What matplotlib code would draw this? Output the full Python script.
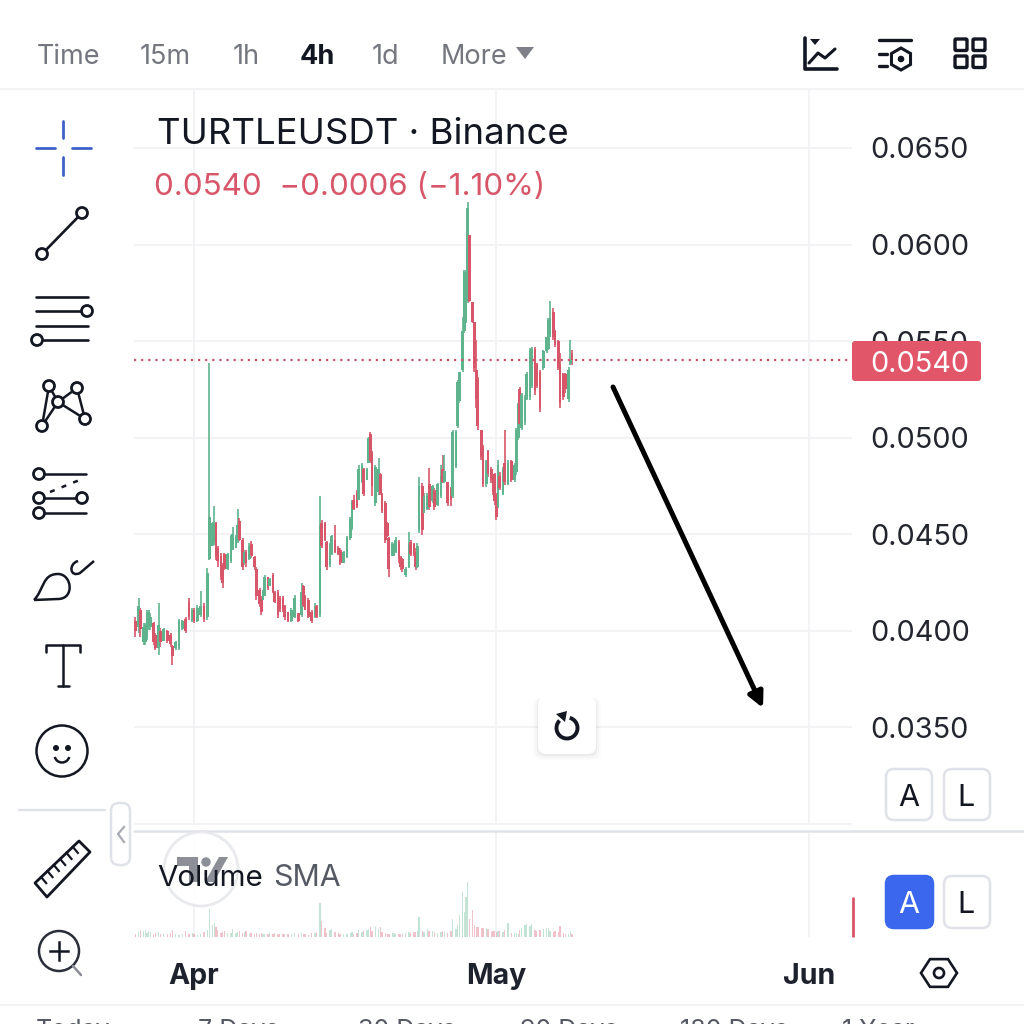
from datetime import datetime

import numpy as np
import matplotlib
matplotlib.use('Agg')
import matplotlib.pyplot as plt
import matplotlib.dates as mdates
from matplotlib.patches import Circle, FancyBboxPatch, Polygon, Arc, PathPatch
from matplotlib.path import Path

plt.rcParams['font.family'] = ['Inter', 'DejaVu Sans']

# 4h bar numbers, counted from 26 Mar 04:00
bars = [0, 2, 3, 5, 6, 7, 8, 9, 11, 12,
        14, 15, 17, 19, 21, 22, 24, 26, 28, 30,
        32, 34, 35, 37, 39, 41, 43, 44, 46, 47,
        48, 49, 51, 52, 53, 55, 57, 58, 60, 61,
        62, 64, 65, 66, 68, 69, 71, 72, 74, 75,
        76, 77, 79, 80, 82, 83, 85, 86, 88, 89,
        91, 93, 95, 97, 99, 100, 101, 103, 105, 107,
        108, 110, 111, 113, 114, 116, 117, 119, 121, 122,
        124, 126, 128, 129, 130, 132, 133, 135, 136, 138,
        139, 140, 141, 143, 145, 146, 147, 149, 150, 151,
        153, 154, 155, 157, 158, 159, 161, 163, 164, 166,
        167, 168, 169, 171, 172, 174, 175, 177, 178, 180,
        182, 183, 184, 186, 188, 189, 191, 192, 193, 195,
        196, 197, 198, 199, 201, 202, 203, 204, 206, 207,
        209, 210, 212, 213, 214, 215, 216, 217, 219, 220,
        222, 224, 226, 227, 228, 229, 230, 232, 233, 235,
        236, 238, 239, 241, 243, 245, 246, 247, 249, 250,
        252, 253, 255, 256, 258, 259, 260]

# prices in 1e-4 USDT
opens = [405, 402, 411, 394, 394, 397, 402, 402, 404, 398,
         391, 400, 395, 400, 398, 392, 391, 391, 401, 406,
         415, 405, 411, 405, 408, 413, 407, 437, 444, 446,
         456, 443, 439, 434, 440, 432, 436, 442, 443, 446,
         457, 447, 435, 441, 437, 445, 438, 432, 421, 417,
         416, 418, 428, 423, 429, 420, 420, 417, 417, 413,
         410, 405, 407, 409, 408, 423, 418, 416, 410, 407,
         413, 408, 456, 456, 446, 434, 440, 447, 443, 442,
         435, 438, 448, 453, 468, 472, 468, 477, 484, 478,
         487, 502, 492, 466, 472, 481, 471, 466, 456, 448,
         439, 439, 441, 446, 438, 437, 429, 433, 446, 445,
         441, 433, 452, 475, 461, 463, 476, 467, 473, 465,
         470, 484, 477, 477, 474, 470, 485, 506, 519, 535,
         555, 560, 571, 605, 570, 560, 535, 530, 504, 495,
         476, 493, 484, 479, 481, 471, 464, 480, 471, 487,
         476, 488, 478, 482, 500, 525, 505, 508, 520, 521,
         527, 546, 538, 534, 536, 545, 546, 553, 565, 555,
         550, 538, 533, 533, 520, 538, 544]
closes = [400, 413, 401, 402, 403, 410, 410, 407, 394, 391,
          403, 394, 401, 395, 393, 387, 394, 405, 405, 400,
          407, 411, 405, 412, 413, 406, 430, 459, 456, 456,
          438, 436, 428, 425, 432, 440, 449, 450, 449, 455,
          447, 433, 441, 435, 444, 439, 433, 418, 414, 410,
          421, 428, 422, 427, 420, 415, 408, 411, 411, 407,
          405, 411, 417, 405, 420, 413, 411, 407, 405, 413,
          407, 455, 444, 447, 433, 445, 449, 441, 440, 435,
          441, 448, 458, 467, 463, 464, 484, 486, 471, 484,
          500, 488, 475, 485, 484, 471, 462, 447, 449, 432,
          445, 444, 447, 437, 433, 432, 432, 445, 440, 440,
          433, 444, 475, 452, 470, 470, 464, 475, 464, 476,
          480, 477, 483, 466, 468, 503, 503, 529, 534, 555,
          586, 586, 619, 571, 560, 536, 520, 506, 490, 476,
          488, 481, 478, 472, 467, 459, 486, 474, 484, 477,
          487, 478, 486, 504, 517, 507, 522, 521, 533, 545,
          546, 524, 527, 515, 545, 552, 561, 562, 552, 548,
          536, 518, 521, 525, 535, 540, 540]
highs = [407.4, 416.9, 411.7, 404, 404, 410.9, 410.9, 409.1, 404.8, 398.8,
         414.3, 401.4, 401.4, 400.5, 398.8, 392.7, 394.5, 406, 405.7, 407.4,
         416.9, 411.7, 411.7, 413.4, 420.4, 414.3, 432.4, 538.8, 456.6, 464.4,
         456.6, 443.7, 440.2, 435, 440.2, 440.2, 449.7, 454, 449.7, 463,
         458.3, 448, 441.9, 441.9, 445.4, 446.3, 438.5, 433.3, 422.1, 417.8,
         421.2, 429, 428.1, 427.3, 429.9, 420.4, 421.2, 417.8, 417.8, 413.4,
         410, 411.7, 418.6, 409.1, 425, 423.8, 418.6, 416.9, 410.9, 414.3,
         413.4, 469.9, 457.5, 456.6, 446.3, 445.4, 449.7, 454.9, 443.7, 442.8,
         441.1, 448.9, 459.2, 467.9, 470.4, 473, 486, 486.8, 484.2, 484.2,
         500.6, 503.2, 492.9, 486, 489.4, 481.6, 471.3, 467, 456.6, 448.8,
         446.2, 445.4, 448.8, 447.1, 438.5, 437.6, 433.3, 451.4, 447.1, 445.4,
         442.8, 445.4, 479.9, 476.5, 471.3, 471.3, 484.2, 475.6, 473.9, 476.5,
         486, 491.1, 491.1, 477.3, 474.7, 504.1, 504.1, 530, 534.2, 562.7,
         587, 587, 622.2, 605.1, 570.4, 560, 550.7, 531.6, 504.1, 496.3,
         488.6, 493.8, 485, 479.8, 481.8, 471.5, 488.6, 482.4, 485, 504.1,
         488.6, 488.6, 487, 505.2, 518.1, 526.4, 523.3, 522.2, 534.2, 546.6,
         547.1, 547.1, 538.8, 535.2, 545.6, 552.3, 562.1, 570.9, 567.3, 555.9,
         550.7, 544, 533.6, 533.6, 536.8, 550.7, 545.6]
lows = [397, 398.8, 397, 392.7, 392.7, 395.3, 400.5, 400.5, 392.7, 390.1,
        387.5, 391.9, 394.5, 393.6, 391.9, 382.4, 390.1, 390.1, 400.5, 398.8,
        405.7, 404.8, 404, 404.8, 407.4, 404.8, 405.7, 436.8, 443.7, 444.5,
        436.8, 433.3, 426.4, 422.1, 431.6, 431.6, 435, 441.9, 442.8, 445.4,
        446.3, 431.6, 434.2, 433.3, 436.8, 437.6, 431.6, 416, 412.6, 408.3,
        416, 417.8, 421.2, 423, 419.5, 414.3, 406.6, 410, 410, 405.7,
        404.8, 404.8, 406.6, 404.8, 407.4, 412.6, 410.9, 406.6, 404, 406.6,
        406.6, 407.4, 442.8, 446.3, 431.6, 433.3, 439.4, 440.2, 439.4, 434.2,
        435, 437.6, 447.1, 452.3, 462.7, 463.5, 467.9, 476.5, 469.6, 478.2,
        486.8, 486.8, 469.6, 464.4, 470.4, 470.4, 460.9, 445.4, 448.8, 428.1,
        438.5, 438.5, 440.2, 435, 431.6, 430.7, 428.1, 432.4, 438.5, 438.5,
        431.6, 432.4, 450.6, 449.7, 460.9, 462.6, 462.6, 466.1, 462.6, 464.4,
        468.7, 476.5, 476.5, 464.4, 464.4, 468.7, 484.2, 505.2, 518.1, 534.2,
        554.4, 559.5, 569.9, 570.4, 559.5, 534.2, 515.5, 504.1, 488.6, 474.6,
        474.6, 479.8, 476.7, 470.4, 465.3, 457.5, 463.7, 473, 470.4, 475.6,
        475.6, 477.2, 477.2, 480.8, 498.9, 505.7, 504.1, 506.7, 519.7, 519.7,
        525.9, 522.2, 525.9, 513.4, 535.2, 544, 545.6, 552.3, 550.7, 547.1,
        535.2, 515.5, 519.7, 523.3, 518.6, 537.8, 537.8]
volumes = [3, 5, 7, 6, 7, 4, 6, 5, 3, 4,
           5, 3, 3, 3, 4, 7, 3, 2, 3, 6,
           3, 4, 3, 2, 3, 5, 7, 28, 12, 14,
           10, 7, 4, 5, 6, 4, 4, 8, 4, 5,
           6, 4, 5, 6, 3, 4, 3, 4, 3, 4,
           3, 3, 3, 4, 3, 4, 3, 3, 3, 3,
           3, 3, 4, 3, 4, 3, 3, 2, 4, 4,
           5, 34, 16, 9, 4, 7, 8, 5, 4, 3,
           3, 3, 4, 5, 3, 4, 7, 5, 6, 7,
           8, 10, 6, 10, 8, 10, 5, 4, 3, 3,
           4, 4, 3, 3, 3, 3, 4, 5, 4, 5,
           5, 6, 20, 6, 5, 8, 6, 6, 5, 4,
           5, 6, 5, 4, 6, 18, 8, 12, 22, 45,
           25, 40, 55, 18, 27, 12, 10, 10, 9, 9,
           9, 8, 5, 6, 6, 5, 6, 6, 5, 7,
           14, 4, 4, 4, 3, 7, 9, 12, 13, 11,
           13, 7, 6, 7, 8, 9, 9, 6, 5, 6,
           5, 11, 4, 3, 3, 6, 3]

price_ticks = [300, 350, 400, 450, 500, 550, 600, 650]
price_labels = ['', '0.0350', '0.0400', '0.0450', '0.0500', '0.0550', '0.0600', '0.0650']
last_price = 540
month_ticks = [datetime(2025, 4, 1), datetime(2025, 5, 1), datetime(2025, 6, 1)]
month_labels = ['Apr', 'May', 'Jun']
timeframes = ['Time', '15m', '1h', '4h', '1d', 'More']
ranges = ['Today', '7 Days', '30 Days', '90 Days', '180 Days', '1 Year']

UP = '#5fb48d'
DOWN = '#d8566a'
GRID = '#f2f2f5'
LINE = '#e0e2e9'
INK = '#131722'
GREY = '#74777f'


def px_box(left, top, right, bottom):
    return [left / 1024, 1 - bottom / 1024, (right - left) / 1024, (bottom - top) / 1024]


fig = plt.figure(figsize=(10.24, 10.24), dpi=100, facecolor='white')
ax = fig.add_axes(px_box(134, 90, 852, 825))
ax_vol = fig.add_axes(px_box(134, 832, 852, 937))
ui = fig.add_axes([0, 0, 1, 1], zorder=5)
ui.set_xlim(0, 1024)
ui.set_ylim(1024, 0)
ui.axis('off')
ui.patch.set_alpha(0)

# candles
start = mdates.date2num(datetime(2025, 3, 26, 4))
days = start + np.array(bars) / 6
opens_arr = np.array(opens, dtype=float)
closes_arr = np.array(closes, dtype=float)
colors = [UP if c >= o else DOWN for o, c in zip(opens_arr, closes_arr)]
ax.vlines(days, lows, highs, colors=colors, linewidth=1.2, zorder=3)
ax.bar(days, closes_arr - opens_arr, bottom=opens_arr, width=0.27, color=colors, zorder=3)
ax.axhline(last_price, color='#c9566a', linewidth=1.6, linestyle=(0, (1, 2.2)), zorder=4)

xlim = (mdates.date2num(datetime(2025, 4, 1)) - 5.96, mdates.date2num(datetime(2025, 4, 1)) + 65.3)
ax.set_xlim(xlim)
ax.set_ylim(299.5, 680)
ax.set_yticks(price_ticks, price_labels)
ax.yaxis.tick_right()
ax.tick_params(axis='y', length=0, pad=13.5, labelsize=20.8, labelcolor='#23262f')
ax.set_xticks([mdates.date2num(m) for m in month_ticks], [])
ax.tick_params(axis='x', length=0)
ax.grid(True, color=GRID, linewidth=1.3)
ax.set_axisbelow(True)
for s in ax.spines.values():
    s.set_visible(False)

# volume pane
ax_vol.bar(days, volumes, width=0.13, color=colors, alpha=0.36, zorder=3)
ax_vol.vlines(mdates.date2num(datetime(2025, 6, 5, 10)), 0, 40, color=DOWN, linewidth=2, zorder=3, clip_on=False)
ax_vol.set_xlim(xlim)
ax_vol.set_ylim(0, 105)
ax_vol.set_yticks([])
ax_vol.set_xticks([mdates.date2num(m) for m in month_ticks], month_labels)
ax_vol.tick_params(axis='x', length=0, pad=19, labelsize=20.5, labelcolor='#1e222d')
for lab in ax_vol.get_xticklabels():
    lab.set_fontweight('bold')
ax_vol.grid(True, axis='x', color=GRID, linewidth=1.3)
ax_vol.set_axisbelow(True)
for s in ax_vol.spines.values():
    s.set_visible(False)
ax_vol.patch.set_alpha(0)


# little helpers for the app chrome, all in screen pixels
def seg(x, y, color=INK, lw=2.2, **kw):
    ui.plot(x, y, color=color, linewidth=lw, solid_capstyle=kw.pop('cap', 'round'), **kw)


def ring(x, y, r=5.5, color=INK, lw=2):
    ui.add_patch(Circle((x, y), r, facecolor='white', edgecolor=color, linewidth=lw, zorder=6))


def rbox(left, top, right, bottom, fc='white', ec=LINE, lw=1.8, pad=8, zorder=6):
    ui.add_patch(FancyBboxPatch((left + pad, top + pad), right - left - 2 * pad, bottom - top - 2 * pad,
                                boxstyle=f'round,pad={pad},rounding_size={pad}',
                                facecolor=fc, edgecolor=ec, linewidth=lw, zorder=zorder))


# top bar
for label, x, col, weight in zip(timeframes, [37, 140, 233, 300, 372, 441],
                                 [GREY, GREY, GREY, INK, GREY, GREY],
                                 ['normal', 'normal', 'normal', 'bold', 'normal', 'normal']):
    ui.text(x, 57, label, fontsize=19.5, color=col, fontweight=weight, va='center', ha='left')
ui.add_patch(Polygon([(516, 47), (534, 47), (525, 59)], closed=True, facecolor='#7d8089', edgecolor='none'))
seg([0, 1024], [89, 89], color=GRID, lw=1.3)
seg([0, 1024], [1005, 1005], color=GRID, lw=1.3)

# top right icons
seg([805, 805, 837], [38, 69, 69], lw=2.6)
ui.add_patch(Polygon([(810, 39), (820, 39), (815, 45)], closed=True, facecolor=INK))
seg([809, 818, 825, 835], [63, 53, 58, 49], lw=2.2)
seg([879, 911], [40, 40], lw=2.4)
seg([879, 887], [54, 54], lw=2.4)
seg([879, 887], [66, 66], lw=2.4)
hex_t = np.radians(np.arange(30, 390, 60))
ui.add_patch(Polygon(np.c_[901 + 11 * np.cos(hex_t), 59 + 11 * np.sin(hex_t)], closed=True,
                     facecolor='white', edgecolor=INK, linewidth=2.2))
ui.add_patch(Circle((901, 59), 2.6, color=INK))
for gx in (955, 973):
    for gy in (39, 56):
        rbox(gx, gy, gx + 12, gy + 11.5, fc='white', ec=INK, lw=2.4, pad=1.2)

# left toolbar
BLUE = '#3f60c8'
seg([63, 63], [121, 138], color=BLUE, lw=2)
seg([63, 63], [157, 175], color=BLUE, lw=2)
seg([36, 55], [148, 148], color=BLUE, lw=2)
seg([72, 91], [148, 148], color=BLUE, lw=2)
seg([42, 82], [254, 213], lw=1.9)
ring(42, 254)
ring(82, 213)
seg([36, 88], [297, 297], lw=1.9)
seg([36, 82], [311, 311], lw=1.9)
seg([36, 88], [326, 326], lw=1.9)
seg([42, 88], [340, 340], lw=1.9)
ring(87, 311)
ring(37, 340)
seg([42, 49, 58, 42], [426, 386, 402, 426], lw=1.8)
seg([58, 77, 85, 58], [402, 388, 419, 402], lw=1.8)
for cx, cy in [(49, 386), (77, 388), (58, 402), (85, 419), (42, 426)]:
    ring(cx, cy)
seg([39, 86], [474, 474], lw=1.8)
seg([39, 82], [498, 498], lw=1.8)
seg([39, 86], [513, 513], lw=1.8)
seg([50, 82], [492, 479], lw=1.8, linestyle=(0, (2, 3)))
for cx, cy in [(39, 474), (39, 498), (82, 498), (39, 513)]:
    ring(cx, cy)
brush = Path([(34, 600), (44, 590), (42, 574), (58, 574), (72, 574), (75, 599), (58, 599), (34, 600)],
             [Path.MOVETO, Path.CURVE4, Path.CURVE4, Path.CURVE4, Path.CURVE4, Path.CURVE4, Path.CURVE4, Path.LINETO])
ui.add_patch(PathPatch(brush, facecolor='none', edgecolor=INK, linewidth=1.8))
handle = Path([(78, 561), (68, 564), (70, 578), (80, 573), (94, 561)],
              [Path.MOVETO, Path.CURVE4, Path.CURVE4, Path.CURVE4, Path.LINETO])
ui.add_patch(PathPatch(handle, facecolor='none', edgecolor=INK, linewidth=1.8))
seg([46, 46, 80, 80], [652, 645, 645, 652], lw=1.8)
seg([63, 63], [645, 686], lw=1.8)
seg([58, 69], [686, 686], lw=1.8)
ui.add_patch(Circle((62, 751), 25.5, facecolor='white', edgecolor=INK, linewidth=1.8))
ui.add_patch(Circle((56, 748), 2.3, color=INK))
ui.add_patch(Circle((68, 748), 2.3, color=INK))
ui.add_patch(Arc((62, 755), 15, 15, theta1=15, theta2=165, color=INK, linewidth=1.8))
seg([19, 105], [810, 810], color=LINE, lw=1.6)
rbox(111, 803, 130, 865, ec=LINE, pad=8)
ui.plot([124, 118, 124], [827, 834, 842], color='#a8abb3', linewidth=1.6, zorder=7)
ui.add_patch(Polygon([(35, 883), (47, 897), (90, 852), (79, 841)], closed=True, facecolor='white',
                     edgecolor=INK, linewidth=2, joinstyle='round'))
for t in np.linspace(0.14, 0.86, 6):
    bx, by = 35 + t * 44, 883 + t * (841 - 883)
    ui.plot([bx, bx + 5], [by, by + 6], color=INK, linewidth=1.6, zorder=7)
ui.add_patch(Circle((59, 951), 20, facecolor='white', edgecolor='#2a2e39', linewidth=1.8))
ui.plot([50, 68], [951, 951], color=INK, linewidth=1.8, zorder=7)
ui.plot([59, 59], [942, 960], color=INK, linewidth=1.8, zorder=7)
seg([73, 81], [966, 975], color='#8a8d95', lw=1.8)

# legend texts
ui.text(157, 134, 'TURTLEUSDT · Binance', fontsize=26.3, color=INK, va='center', ha='left')
ui.text(154, 187, '0.0540  −0.0006 (−1.10%)', fontsize=22.6, color=DOWN, va='center', ha='left')

# pane separator and volume legend
seg([134, 1024], [831, 831], color=LINE, lw=1.8)
ui.add_patch(Circle((201, 869), 37, facecolor='white', edgecolor='#e7e8ec', linewidth=2, alpha=0.9, zorder=2))
ui.add_patch(Polygon([(177, 857), (198, 857), (198, 882), (189, 882), (189, 866), (177, 866)],
                     closed=True, facecolor='#8c8f97', zorder=2))
ui.add_patch(Circle((206, 862), 4, color='#8c8f97', zorder=2))
ui.add_patch(Polygon([(219, 857), (228, 857), (214, 882), (205, 882)], closed=True, facecolor='#8c8f97', zorder=2))
ui.text(157, 878, 'Volume', fontsize=21.3, color=INK, va='center', ha='left', zorder=7)
ui.text(273, 878, 'SMA', fontsize=21.8, color='#555963', va='center', ha='left', zorder=7)

# last price tag
rbox(852, 341, 981, 381, fc='#e25669', ec='#e25669', lw=0, pad=3)
ui.text(920, 364, '0.0540', fontsize=20.8, color='white', va='center', ha='center', zorder=7)

# scale buttons
rbox(886, 769, 932, 820)
rbox(944, 769, 990, 820)
ui.text(909, 798, 'A', fontsize=22, color=INK, va='center', ha='center', zorder=7)
ui.text(966, 798, 'L', fontsize=22, color=INK, va='center', ha='center', zorder=7)
rbox(886, 876, 933, 928, fc='#3b66ee', ec='#3b66ee')
rbox(944, 876, 990, 928)
ui.text(909, 905, 'A', fontsize=22, color='white', va='center', ha='center', zorder=7)
ui.text(966, 905, 'L', fontsize=22, color=INK, va='center', ha='center', zorder=7)
ui.add_patch(Polygon(np.c_[939 + 18 * np.cos(np.radians(np.arange(0, 360, 60))),
                           973 + 16 * np.sin(np.radians(np.arange(0, 360, 60)))], closed=True,
                     facecolor='white', edgecolor=INK, linewidth=1.9))
ui.add_patch(Circle((939, 973), 5, facecolor='white', edgecolor=INK, linewidth=1.9))

# reset button with a soft shadow
for off, a in zip((5, 3, 1), (0.015, 0.025, 0.04)):
    rbox(538 - off, 698, 596 + off, 755 + off, fc='black', ec='none', lw=0, zorder=6)
    ui.patches[-1].set_alpha(a)
rbox(538, 697, 596, 754, fc='white', ec='none', lw=0, zorder=6)
ui.add_patch(Arc((567, 728), 21, 21, theta1=-75, theta2=225, color=INK, linewidth=2.8, zorder=7))
ui.add_patch(Polygon([(556, 714), (567, 711), (565, 722)], closed=True, facecolor=INK, zorder=7))

# hand drawn arrow
ui.annotate('', xy=(763, 708), xytext=(613, 387),
            arrowprops=dict(arrowstyle='-|>,head_length=0.9,head_width=0.45', color='black',
                            linewidth=3.6, shrinkA=0, shrinkB=0), zorder=7)

# range row, cut off by the bottom edge
for label, x in zip(ranges, [36, 198, 358, 520, 680, 842]):
    ui.text(x, 1019, label, fontsize=18, color='#555963', va='top', ha='left', clip_on=False)

fig.savefig('out.png', dpi=100)
